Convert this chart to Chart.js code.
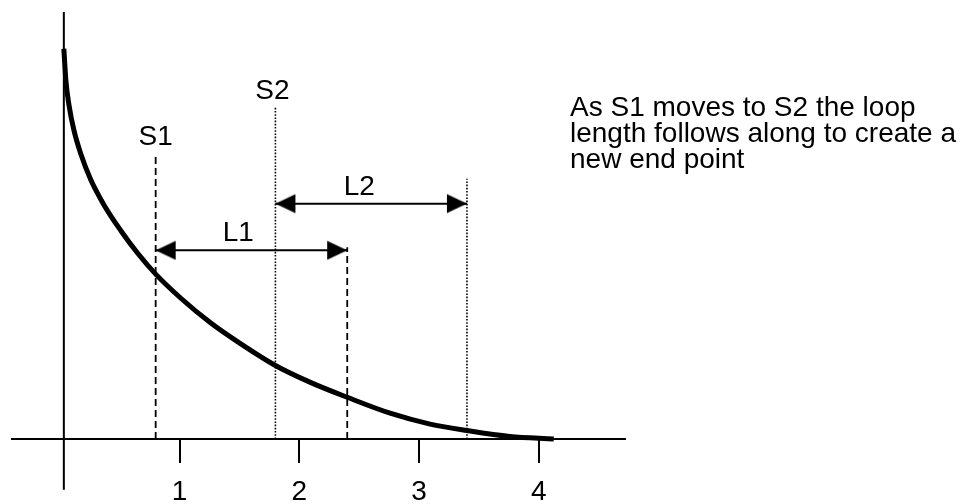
<!DOCTYPE html>
<html>
<head>
<meta charset="utf-8">
<script src="https://cdn.jsdelivr.net/npm/chart.js@4.4.1/dist/chart.umd.min.js"></script>
<style>
  html, body { margin: 0; padding: 0; background: #fff; }
  #wrap { position: relative; width: 971px; height: 504px; }
</style>
</head>
<body>
<div id="wrap"><canvas id="c"></canvas></div>
<script>
// ---- data ----
const tickValues = [1, 2, 3, 4];
const curveX = [0.033, 0.05, 0.075, 0.117, 0.175, 0.258, 0.367, 0.508, 0.65, 0.8, 1.008, 1.258, 1.508, 1.8, 2.092, 2.4, 2.758, 3.092, 3.4, 3.758, 4.125];
const curveY = [3.93, 3.61, 3.37, 3.11, 2.87, 2.61, 2.36, 2.10, 1.87, 1.66, 1.42, 1.17, 0.96, 0.74, 0.57, 0.42, 0.26, 0.15, 0.085, 0.025, 0.0];
const markerX = [0.8, 2.4, 1.8, 3.4];          // S1, L1 end, S2, L2 end
const markerTop = [2.86, 1.93, 3.34, 2.62];
const arrowStart = [0.8, 1.8];                   // L1, L2
const arrowEnd = [2.4, 3.4];
const arrowY = [1.90, 2.37];
const yAxisLine = [-0.51, 4.3];
const yAxisAt = 0.033;
const labelTexts = ['S1', 'S2', 'L1', 'L2'];
const labelX = [0.8, 1.775, 1.49, 2.5];
const labelY = [2.96, 3.42, 1.99, 2.46];
const noteLines = ['As S1 moves to S2 the loop', 'length follows along to create a', 'new end point'];

const FONT = "'Liberation Sans', Arial, sans-serif";

// arrowhead image: tip at centre, body to the right
function arrowHead() {
  const c = document.createElement('canvas');
  c.width = 44; c.height = 22;
  const g = c.getContext('2d');
  g.fillStyle = '#000';
  g.beginPath();
  g.moveTo(22, 11);
  g.lineTo(42, 1.5);
  g.lineTo(42, 20.5);
  g.closePath();
  g.fill();
  return c;
}
const head = arrowHead();

const datasets = [];
datasets.push({
  data: curveX.map((x, i) => ({ x, y: curveY[i] })),
  borderColor: '#000', borderWidth: 5, pointRadius: 0,
  cubicInterpolationMode: 'monotone', borderCapStyle: 'butt', clip: false
});
datasets.push({
  data: yAxisLine.map(y => ({ x: yAxisAt, y })),
  borderColor: '#000', borderWidth: 2, pointRadius: 0, clip: false
});
markerX.forEach((mx, i) => {
  datasets.push({
    data: [{ x: mx, y: 0 }, { x: mx, y: markerTop[i] }],
    borderColor: '#000', borderWidth: i < 2 ? 1.8 : 1.6, pointRadius: 0,
    borderDash: i < 2 ? [7, 4] : [1.6, 1.6]
  });
});
arrowStart.forEach((s, i) => {
  datasets.push({
    data: [{ x: s, y: arrowY[i] }, { x: arrowEnd[i], y: arrowY[i] }],
    borderColor: '#000', borderWidth: 2,
    pointRadius: 10, pointStyle: head, pointRotation: [0, 180]
  });
});

const textPlugin = {
  id: 'texts',
  afterDatasetsDraw(chart) {
    const ctx = chart.ctx;
    const xs = chart.scales.x, ys = chart.scales.y;
    ctx.save();
    ctx.fillStyle = '#000';
    ctx.font = '28px ' + FONT;
    ctx.textAlign = 'center';
    ctx.textBaseline = 'alphabetic';
    labelTexts.forEach((t, i) => {
      ctx.fillText(t, xs.getPixelForValue(labelX[i]), ys.getPixelForValue(labelY[i]));
    });
    ctx.textAlign = 'left';
    noteLines.forEach((t, i) => {
      ctx.fillText(t, 570, 116 + i * 26);
    });
    ctx.restore();
  }
};

new Chart(document.getElementById('c'), {
  type: 'scatter',
  data: { datasets },
  options: {
    responsive: true,
    maintainAspectRatio: false,
    animation: false,
    showLine: true,
    layout: { padding: { left: 11, right: 346, top: 9, bottom: 0 } },
    plugins: { legend: { display: false }, tooltip: { enabled: false } },
    scales: {
      x: {
        type: 'linear', min: -0.4, max: 4.72,
        afterBuildTicks: s => { s.ticks = tickValues.map(v => ({ value: v })); },
        afterFit: s => { s.height = 65; },
        border: { display: true, color: '#000', width: 2 },
        grid: { drawOnChartArea: false, drawTicks: true, tickLength: 24, color: '#000', lineWidth: 2 },
        ticks: { color: '#000', padding: 12, font: { size: 28, family: FONT }, maxRotation: 0,
                 callback: v => String(v) }
      },
      y: { type: 'linear', min: 0, max: 4.3, display: false }
    }
  },
  plugins: [textPlugin]
});
</script>
</body>
</html>
